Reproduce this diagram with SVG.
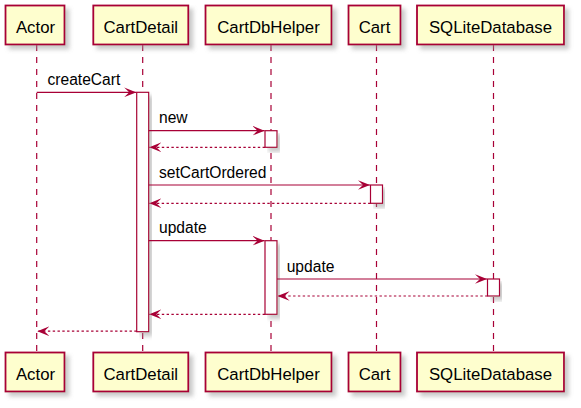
<svg xmlns="http://www.w3.org/2000/svg" width="581" height="408" viewBox="0 0 581 408">
<defs>
<filter id="sh" x="-10%" y="-10%" width="130%" height="140%">
<feGaussianBlur in="SourceAlpha" stdDeviation="2" result="b"/>
<feOffset in="b" dx="4" dy="4" result="o"/>
<feColorMatrix in="o" type="matrix" values="0 0 0 0 0.3  0 0 0 0 0.3  0 0 0 0 0.3  0 0 0 0.5 0" result="c"/>
<feMerge><feMergeNode in="c"/><feMergeNode in="SourceGraphic"/></feMerge>
</filter>
<marker id="ah" viewBox="0 0 12 10" refX="12" refY="5" markerWidth="12" markerHeight="10" markerUnits="userSpaceOnUse" orient="auto">
<polygon points="0,0.2 12,5 0,9.8 5,5" fill="#A80036"/>
</marker>
</defs>
<style>
.box{fill:#FEFECE;stroke:#A80036;stroke-width:1.8;filter:url(#sh)}
.act{fill:#FFFFFF;stroke:#A80036;stroke-width:1.2;filter:url(#sh)}
.life{stroke:#A80036;stroke-width:1.2;stroke-dasharray:6,6;fill:none}
.msg{stroke:#A80036;stroke-width:1.2;fill:none;marker-end:url(#ah)}
.ret{stroke:#A80036;stroke-width:1.2;fill:none;stroke-dasharray:2.4,2.4;marker-end:url(#ah)}
.pt{font-family:"Liberation Sans",Arial,sans-serif;font-size:16.8px;fill:#000;text-anchor:middle}
.mt{font-family:"Liberation Sans",Arial,sans-serif;font-size:15.6px;fill:#000}
</style>
<g id="lifelines">
<line class="life" x1="36.7" y1="45" x2="36.7" y2="352"/>
<line class="life" x1="142.7" y1="45" x2="142.7" y2="352"/>
<line class="life" x1="271" y1="45" x2="271" y2="352"/>
<line class="life" x1="376.5" y1="45" x2="376.5" y2="352"/>
<line class="life" x1="493.5" y1="45" x2="493.5" y2="352"/>
</g>
<g id="Actor">
<rect class="box" x="5.5" y="5.5" width="59" height="39"/>
<text class="pt" x="35.5" y="33">Actor</text>
<rect class="box" x="5.5" y="352.5" width="59" height="39"/>
<text class="pt" x="35.5" y="380">Actor</text>
</g>
<g id="CartDetail">
<rect class="box" x="93.3" y="5.5" width="95" height="39"/>
<text class="pt" x="140.8" y="33">CartDetail</text>
<rect class="box" x="93.3" y="352.5" width="95" height="39"/>
<text class="pt" x="140.8" y="380">CartDetail</text>
<rect class="act" x="136.7" y="92.3" width="12" height="239.4"/>
</g>
<g id="CartDbHelper">
<rect class="box" x="205.5" y="5.5" width="126" height="39"/>
<text class="pt" x="268.5" y="33">CartDbHelper</text>
<rect class="box" x="205.5" y="352.5" width="126" height="39"/>
<text class="pt" x="268.5" y="380">CartDbHelper</text>
<rect class="act" x="265" y="130.7" width="12" height="16.6"/>
<rect class="act" x="265" y="240.7" width="12" height="73.6"/>
</g>
<g id="Cart">
<rect class="box" x="348.5" y="5.5" width="52" height="39"/>
<text class="pt" x="374.5" y="33">Cart</text>
<rect class="box" x="348.5" y="352.5" width="52" height="39"/>
<text class="pt" x="374.5" y="380">Cart</text>
<rect class="act" x="370.5" y="185" width="12" height="18.3"/>
</g>
<g id="SQLiteDatabase">
<rect class="box" x="417" y="5.5" width="147" height="39"/>
<text class="pt" x="490.5" y="33">SQLiteDatabase</text>
<rect class="box" x="417" y="352.5" width="147" height="39"/>
<text class="pt" x="490.5" y="380">SQLiteDatabase</text>
<rect class="act" x="487.5" y="279" width="12" height="17"/>
</g>
<g id="connectors">
<line class="msg" x1="36.7" y1="92.3" x2="136.2" y2="92.3"/>
<text class="mt" x="47.5" y="85">createCart</text>
<line class="msg" x1="148.7" y1="130.7" x2="264.5" y2="130.7"/>
<text class="mt" x="159" y="123.3">new</text>
<line class="ret" x1="265" y1="147.3" x2="149.3" y2="147.3"/>
<line class="msg" x1="148.7" y1="185" x2="370" y2="185"/>
<text class="mt" x="159" y="177.6">setCartOrdered</text>
<line class="ret" x1="370.5" y1="203.3" x2="149.3" y2="203.3"/>
<line class="msg" x1="148.7" y1="240.7" x2="264.5" y2="240.7"/>
<text class="mt" x="159" y="233.3">update</text>
<line class="msg" x1="277" y1="279" x2="487" y2="279"/>
<text class="mt" x="286.7" y="271.6">update</text>
<line class="ret" x1="487.5" y1="296" x2="277.6" y2="296"/>
<line class="ret" x1="265" y1="314.3" x2="149.3" y2="314.3"/>
<line class="ret" x1="136.7" y1="331.2" x2="37.3" y2="331.2"/>
</g>
</svg>
